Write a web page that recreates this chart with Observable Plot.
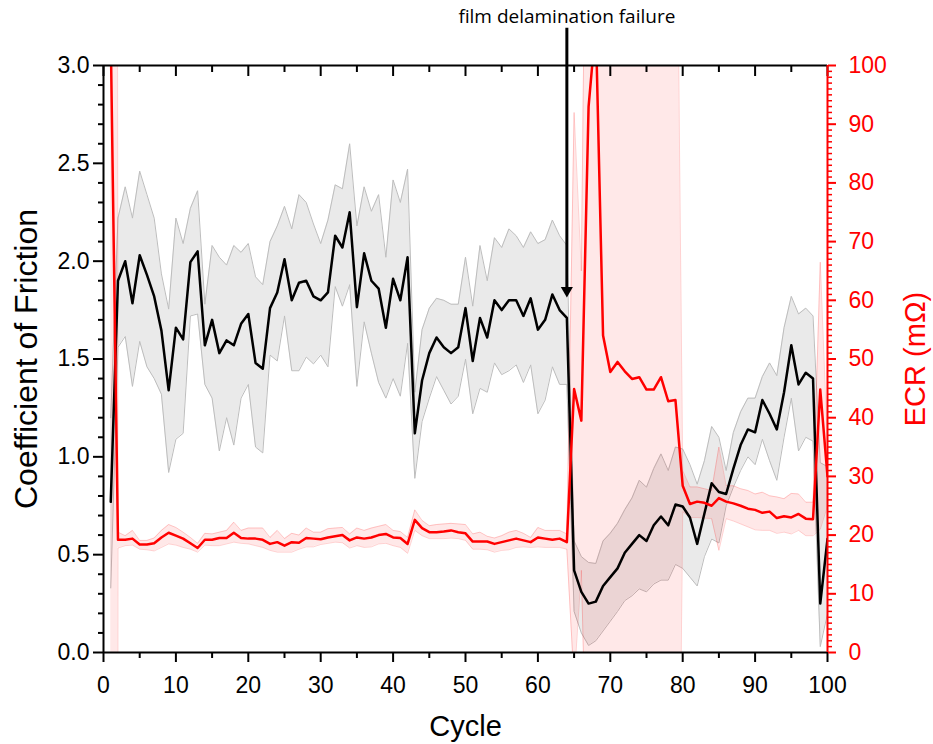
<!DOCTYPE html>
<html>
<head>
<meta charset="utf-8">
<script src="https://cdn.jsdelivr.net/npm/d3@7"></script>
<script src="https://cdn.jsdelivr.net/npm/@observablehq/plot@0.6"></script>
<style>
  html, body { margin: 0; padding: 0; background: #fff; }
  #chart { width: 933px; height: 744px; }
</style>
</head>
<body>
<div id="chart"></div>
<script>
// Cycle numbers
const cycles = d3.range(1, 101);

// Coefficient of friction: mean, lower and upper band
const cof = [0.77,1.90,2.00,1.785,2.03,1.93,1.82,1.645,1.34,1.66,
  1.60,1.995,2.05,1.57,1.70,1.53,1.595,1.57,1.68,1.73,
  1.48,1.45,1.76,1.84,2.01,1.80,1.89,1.90,1.82,1.80,
  1.84,2.13,2.07,2.25,1.765,2.04,1.90,1.86,1.66,1.91,
  1.80,2.02,1.12,1.39,1.53,1.61,1.56,1.53,1.56,1.76,
  1.49,1.71,1.61,1.80,1.75,1.80,1.80,1.72,1.81,1.65,
  1.70,1.83,1.75,1.71,0.42,0.31,0.25,0.26,0.34,0.385,
  0.43,0.51,0.555,0.60,0.57,0.65,0.695,0.65,0.756,0.746,
  0.69,0.555,0.71,0.865,0.82,0.81,0.94,1.06,1.14,1.125,
  1.29,1.22,1.14,1.33,1.57,1.37,1.43,1.40,0.25,0.58];
const cofHi = [1.20,2.22,2.38,2.22,2.46,2.34,2.22,1.935,1.755,2.22,
  2.09,2.27,2.36,1.78,2.08,2.02,1.98,2.08,2.045,2.09,
  1.92,1.88,2.10,2.18,2.28,2.165,2.34,2.30,2.19,2.09,
  2.21,2.39,2.37,2.60,2.18,2.38,2.255,2.34,2.02,2.415,
  2.30,2.47,1.33,1.65,1.76,1.81,1.80,1.78,1.78,2.02,
  1.77,2.08,1.90,2.12,2.07,2.165,2.13,2.07,2.15,2.09,
  2.11,2.21,2.13,2.08,0.57,0.49,0.46,0.455,0.57,0.61,
  0.66,0.73,0.79,0.88,0.845,0.94,1.015,0.93,1.05,1.04,
  0.96,0.86,0.98,1.155,1.10,0.93,1.125,1.23,1.30,1.30,
  1.41,1.48,1.415,1.66,1.82,1.73,1.76,1.72,0.97,0.95];
const cofLo = [0.33,1.56,1.615,1.36,1.59,1.46,1.40,1.32,0.92,1.09,
  1.12,1.72,1.73,1.37,1.30,1.03,1.20,1.06,1.30,1.37,
  1.05,1.02,1.52,1.49,1.72,1.44,1.44,1.51,1.475,1.52,
  1.46,1.87,1.77,1.88,1.36,1.69,1.53,1.38,1.30,1.40,
  1.31,1.58,0.89,1.18,1.30,1.41,1.34,1.27,1.31,1.50,
  1.22,1.35,1.33,1.48,1.42,1.44,1.47,1.38,1.47,1.22,
  1.29,1.46,1.37,1.37,0.21,0.10,0.036,0.06,0.11,0.16,
  0.21,0.265,0.29,0.325,0.31,0.35,0.37,0.37,0.45,0.43,
  0.385,0.34,0.49,0.58,0.56,0.75,0.845,0.93,1.00,0.96,
  1.09,0.98,0.88,1.10,1.30,1.03,1.10,1.08,0.03,0.20];

// ECR (mOhm): mean, lower and upper band
const ecr = [105,19.2,19.2,19.4,18.4,18.4,18.6,19.6,20.4,19.9,
  19.4,18.6,17.8,19.2,19.2,19.5,19.5,20.4,19.5,19.4,
  19.4,19.2,18.5,18.8,18.2,18.8,18.7,19.5,19.4,19.3,
  19.6,19.8,20.0,19.1,19.6,19.4,19.6,20.0,20.2,19.6,
  19.5,18.5,22.6,21.2,20.5,20.5,20.6,20.8,20.5,20.3,
  18.9,18.9,18.9,18.5,18.8,19.1,19.4,19.1,18.8,19.6,
  19.4,19.2,19.4,18.8,44.9,39.5,93,107,54,47.8,
  49.5,47.9,46.6,46.9,44.8,44.8,46.9,42.8,43.0,28.4,
  25.3,25.7,25.5,25.0,26.3,25.7,25.4,25.0,24.5,24.3,
  23.8,24.0,22.9,23.2,23.0,23.6,22.8,22.7,44.8,30];
const ecrHi = [1500,20.5,19.9,20.8,19.1,19.1,19.5,20.8,21.8,21.3,
  20.5,19.6,18.6,20.3,20.2,20.5,20.8,22.2,20.8,21.2,
  21.2,21.2,19.6,20.8,19.4,20.3,20.0,21.2,20.5,20.5,
  21.1,21.2,21.3,20.2,21.2,20.8,21.2,21.5,21.8,20.8,
  20.6,19.6,24.3,22.5,21.6,21.8,21.9,22.0,21.9,21.8,
  20.2,20.5,19.8,19.5,19.9,20.5,20.8,20.3,19.6,21.3,
  20.8,20.8,20.8,20.2,92,65,180,200,200,200,
  200,200,200,200,200,200,200,200,156,31,
  28.2,28.2,27.9,27.6,35.0,28.4,28.4,27.9,27.6,27.0,
  27.3,26.7,26.5,26.2,27.1,27.0,25.6,25.6,66.5,35];
const ecrLo = [-1500,17.8,18.2,18.3,17.6,17.5,17.3,17.9,18.5,18.3,
  17.9,17.6,17.1,18.3,18.2,18.2,18.5,18.8,18.6,18.5,
  18.2,17.9,17.4,17.1,17.1,17.1,17.6,18.0,18.0,18.4,
  18.6,18.8,18.7,17.8,18.2,17.9,18.0,18.5,18.6,18.2,
  17.9,16.9,20.8,19.9,19.4,19.4,19.4,19.5,19.4,19.1,
  17.6,17.6,17.5,17.1,17.4,17.5,17.9,18.0,17.9,18.0,
  17.9,17.9,17.9,17.6,-5,14,-35,-100,-100,-100,
  -100,-100,-100,-100,-100,-100,-100,-100,-96,24,
  23.0,23.0,22.9,22.8,17.4,22.8,22.4,21.9,21.4,20.9,
  20.8,20.8,20.3,20.5,20.2,20.8,19.9,19.9,21,25];

// Axis ticks
const xMajor = [0,10,20,30,40,50,60,70,80,90,100];
const xMinor = [5,15,25,35,45,55,65,75,85,95];
const cofMajor = [0,0.5,1.0,1.5,2.0,2.5,3.0];
const cofMinor = [0.1,0.2,0.3,0.4,0.6,0.7,0.8,0.9,1.1,1.2,1.3,1.4,1.6,1.7,1.8,1.9,2.1,2.2,2.3,2.4,2.6,2.7,2.8,2.9];
const ecrMajor = [0,10,20,30,40,50,60,70,80,90,100];
const ecrMinor = d3.range(0, 101).filter(v => v % 10 !== 0);

// Annotation
const annotation = [{cycle: 64, from: 3.19, tip: 1.82, label: "film delamination failure"}];

// ECR is drawn on the COF scale: 100 mOhm <-> 3.0
const k = 3 / 100;

const rows = cycles.map((c, i) => ({
  cycle: c,
  cof: cof[i], cofLo: cofLo[i], cofHi: cofHi[i],
  ecr: ecr[i] * k, ecrLo: ecrLo[i] * k, ecrHi: ecrHi[i] * k
}));

const font = "'Liberation Sans', Arial, sans-serif";

const chart = Plot.plot({
  width: 933,
  height: 744,
  marginLeft: 103,
  marginRight: 106,
  marginTop: 65,
  marginBottom: 92,
  x: {domain: [0, 100]},
  y: {domain: [0, 3]},
  style: {fontFamily: font, background: "white", overflow: "visible", color: "black"},
  marks: [
    // gray COF band
    Plot.areaY(rows, {x: "cycle", y1: "cofLo", y2: "cofHi", fill: "#eaeaea", clip: true}),
    Plot.lineY(rows, {x: "cycle", y: "cofHi", stroke: "#bdbdbd", strokeWidth: 1, clip: true}),
    Plot.lineY(rows, {x: "cycle", y: "cofLo", stroke: "#bdbdbd", strokeWidth: 1, clip: true}),
    // pink ECR band
    Plot.areaY(rows, {x: "cycle", y1: "ecrLo", y2: "ecrHi", fill: "red", fillOpacity: 0.09, clip: true}),
    Plot.lineY(rows, {x: "cycle", y: "ecrHi", stroke: "red", strokeOpacity: 0.18, strokeWidth: 1, clip: true}),
    Plot.lineY(rows, {x: "cycle", y: "ecrLo", stroke: "red", strokeOpacity: 0.18, strokeWidth: 1, clip: true}),
    // mean lines
    Plot.lineY(rows, {x: "cycle", y: "cof", stroke: "black", strokeWidth: 2.5, clip: true}),
    Plot.lineY(rows, {x: "cycle", y: "ecr", stroke: "#ff0000", strokeWidth: 2.5, clip: true}),

    // axes: bottom
    Plot.axisX({ticks: xMajor, tickSize: 10, tickPadding: 14, fontSize: 23, label: null, strokeWidth: 2}),
    Plot.axisX({ticks: xMinor, tickSize: 6, tickFormat: () => "", label: null, strokeWidth: 2}),
    // top (inward ticks)
    Plot.axisX({anchor: "top", ticks: xMajor, tickSize: -10, tickFormat: () => "", label: null, strokeWidth: 2}),
    Plot.axisX({anchor: "top", ticks: xMinor, tickSize: -6, tickFormat: () => "", label: null, strokeWidth: 2}),
    // left
    Plot.axisY({ticks: cofMajor, tickSize: 10, tickPadding: 4, fontSize: 23, tickFormat: d3.format(".1f"), label: null, strokeWidth: 2}),
    Plot.axisY({ticks: cofMinor, tickSize: 5, tickFormat: () => "", label: null, strokeWidth: 2}),
    // right (ECR, red)
    Plot.axisY({anchor: "right", ticks: ecrMajor.map(v => v * k), tickFormat: d => String(Math.round(d / k)),
      tickSize: 8, tickPadding: 13, fontSize: 23, color: "red", label: null, strokeWidth: 2}),
    Plot.axisY({anchor: "right", ticks: ecrMinor.map(v => v * k), tickSize: 4, tickFormat: () => "",
      color: "red", label: null, strokeWidth: 1.5}),

    // frame
    Plot.ruleY([0], {stroke: "black", strokeWidth: 2}),
    Plot.ruleY([3], {stroke: "black", strokeWidth: 2}),
    Plot.ruleX([0], {stroke: "black", strokeWidth: 2}),
    Plot.ruleX([100], {stroke: "red", strokeWidth: 2}),

    // axis titles
    Plot.text(["Coefficient of Friction"], {frameAnchor: "left", textAnchor: "middle", dx: -77, rotate: -90, fontSize: 32, text: d => d, fill: "black"}),
    Plot.text(["ECR (m\u03A9)"], {frameAnchor: "right", textAnchor: "middle", dx: 88, rotate: -90, fontSize: 29, text: d => d, fill: "red"}),
    Plot.text(["Cycle"], {frameAnchor: "bottom", lineAnchor: "middle", dy: 74, fontSize: 29, text: d => d, fill: "black"}),

    // annotation arrow
    Plot.ruleX(annotation, {x: "cycle", y1: "from", y2: "tip", stroke: "black", strokeWidth: 3, insetBottom: 6}),
    Plot.dot(annotation, {x: "cycle", y: "tip", symbol: "triangle", r: 4.5, rotate: 180, fill: "black", stroke: "none", dy: -6}),
    Plot.text(annotation, {x: "cycle", frameAnchor: "top", lineAnchor: "middle", dy: -49, text: "label", fontSize: 19, fontFamily: "'Open Sans', sans-serif", fill: "black"})
  ]
});

document.getElementById("chart").appendChild(chart);
</script>
</body>
</html>
